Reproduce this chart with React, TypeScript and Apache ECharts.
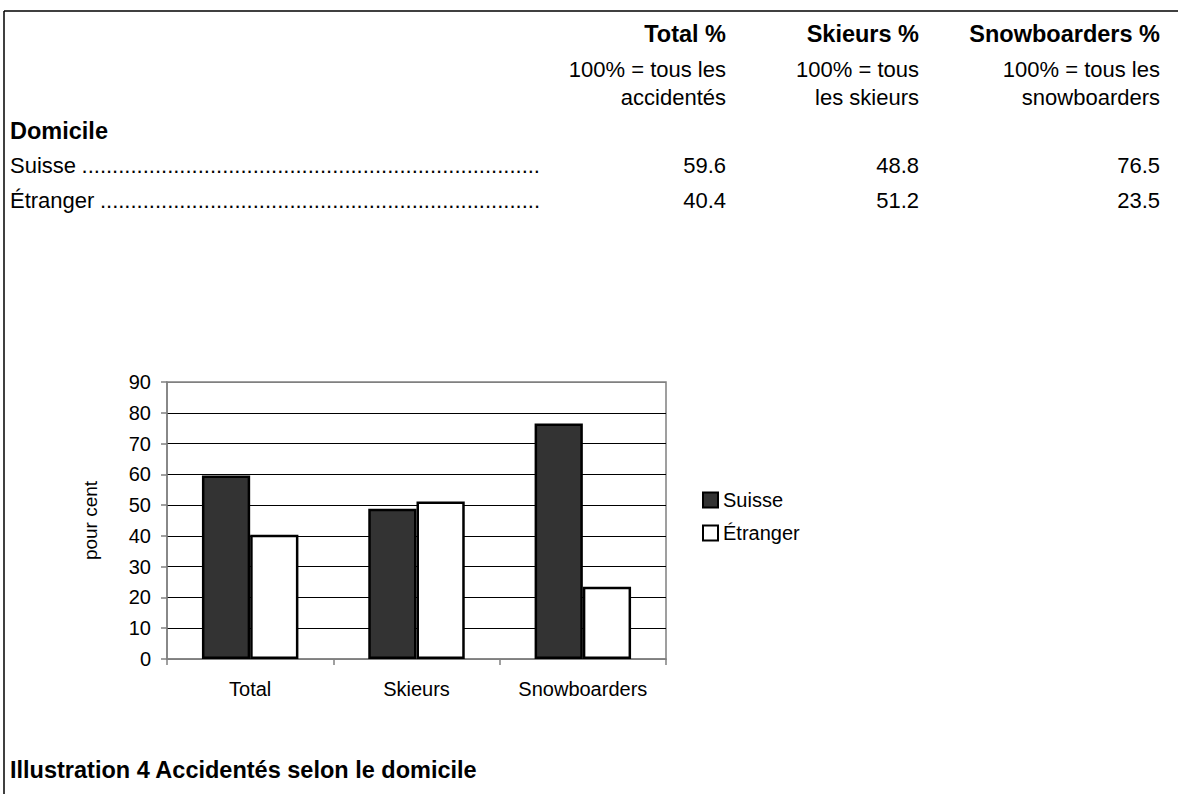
import React, { useEffect, useRef } from "react";
import * as echarts from "echarts";

const categories = ["Total", "Skieurs", "Snowboarders"];
const seriesNames = ["Suisse", "Étranger"];
const suisseValues = [59.6, 48.8, 76.5];
const etrangerValues = [40.4, 51.2, 23.5];
const yMin = 0;
const yMax = 90;
const yInterval = 10;
const yAxisName = "pour cent";

const tableHeaders = ["Total %", "Skieurs %", "Snowboarders %"];
const tableSubtitles = [
  ["100% = tous les", "accidentés"],
  ["100% = tous", "les skieurs"],
  ["100% = tous les", "snowboarders"],
];
const tableSection = "Domicile";
const tableRowLabels = ["Suisse", "Étranger"];
const tableRowValues = [suisseValues, etrangerValues];
const caption = "Illustration 4 Accidentés selon le domicile";

const FONT = "'Liberation Sans', Arial, Helvetica, sans-serif";

export default function App() {
  const ref = useRef<HTMLDivElement>(null);

  useEffect(() => {
    if (!ref.current) return;
    const chart = echarts.init(ref.current, undefined, { renderer: "svg" });

    const colRight = [726, 919, 1160];
    const tableFont = 22;
    const boldFont = 23.5;
    const textLeft = 10;
    const graphics: any[] = [];

    // page frame lines
    graphics.push({
      type: "line",
      shape: { x1: 4, y1: 11, x2: 1178, y2: 11 },
      style: { stroke: "#000", lineWidth: 1.5 },
    });
    graphics.push({
      type: "line",
      shape: { x1: 4, y1: 11, x2: 4, y2: 794 },
      style: { stroke: "#000", lineWidth: 1.5 },
    });

    tableHeaders.forEach((h, i) => {
      graphics.push({
        type: "text",
        x: colRight[i],
        y: 34,
        style: {
          text: h,
          font: `bold ${boldFont}px ${FONT}`,
          fill: "#000",
          align: "right",
          verticalAlign: "middle",
        },
      });
      tableSubtitles[i].forEach((line, j) => {
        graphics.push({
          type: "text",
          x: colRight[i],
          y: 69 + j * 28,
          style: {
            text: line,
            font: `${tableFont}px ${FONT}`,
            fill: "#000",
            align: "right",
            verticalAlign: "middle",
          },
        });
      });
    });

    graphics.push({
      type: "text",
      x: textLeft,
      y: 131,
      style: {
        text: tableSection,
        font: `bold ${boldFont}px ${FONT}`,
        fill: "#000",
        align: "left",
        verticalAlign: "middle",
      },
    });

    const dotCounts = [75, 72];
    tableRowLabels.forEach((lab, r) => {
      const y = 165 + r * 35;
      graphics.push({
        type: "text",
        x: textLeft,
        y,
        style: {
          text: lab,
          font: `${tableFont}px ${FONT}`,
          fill: "#000",
          align: "left",
          verticalAlign: "middle",
        },
      });
      graphics.push({
        type: "text",
        x: 540,
        y,
        style: {
          text: ".".repeat(dotCounts[r]),
          font: `${tableFont}px ${FONT}`,
          fill: "#000",
          align: "right",
          verticalAlign: "middle",
        },
      });
      tableRowValues[r].forEach((v, c) => {
        graphics.push({
          type: "text",
          x: colRight[c],
          y,
          style: {
            text: v.toFixed(1),
            font: `${tableFont}px ${FONT}`,
            fill: "#000",
            align: "right",
            verticalAlign: "middle",
          },
        });
      });
    });

    graphics.push({
      type: "text",
      x: textLeft,
      y: 770,
      style: {
        text: caption,
        font: `bold ${boldFont}px ${FONT}`,
        fill: "#000",
        align: "left",
        verticalAlign: "middle",
      },
    });

    const splitColors: string[] = [];
    for (let v = yMin; v <= yMax; v += yInterval) {
      splitColors.push(v === yMin || v === yMax ? "#808080" : "#000000");
    }

    chart.setOption({
      animation: false,
      backgroundColor: "#fff",
      textStyle: { fontFamily: FONT },
      grid: {
        left: 167,
        top: 382,
        width: 499,
        height: 277,
        show: true,
        borderColor: "#808080",
        borderWidth: 1.5,
        backgroundColor: "transparent",
      },
      legend: {
        orient: "vertical",
        left: 697,
        top: 485,
        itemWidth: 15,
        itemHeight: 15,
        itemGap: 13,
        icon: "rect",
        data: seriesNames,
        textStyle: { fontSize: 20, color: "#000", fontFamily: FONT, lineHeight: 20 },
      },
      xAxis: {
        type: "category",
        data: categories,
        axisLine: { lineStyle: { color: "#808080", width: 1.5 } },
        axisTick: { show: true, length: 6, lineStyle: { color: "#808080", width: 1.5 } },
        axisLabel: { color: "#000", fontSize: 20, margin: 20, fontFamily: FONT, interval: 0 },
      },
      yAxis: {
        type: "value",
        min: yMin,
        max: yMax,
        interval: yInterval,
        name: yAxisName,
        nameLocation: "middle",
        nameGap: 67,
        nameRotate: 90,
        nameTextStyle: { color: "#000", fontSize: 19, fontFamily: FONT },
        axisLine: { show: true, lineStyle: { color: "#808080", width: 1.5 } },
        axisTick: { show: true, length: 6, lineStyle: { color: "#808080", width: 1.5 } },
        axisLabel: { color: "#000", fontSize: 20, margin: 16, fontFamily: FONT },
        splitLine: { show: true, lineStyle: { color: splitColors, width: 1.2 } },
      },
      series: [
        {
          name: seriesNames[0],
          type: "bar",
          data: suisseValues,
          barGap: "0%",
          barCategoryGap: "42%",
          itemStyle: { color: "#333333", borderColor: "#000", borderWidth: 2.5 },
        },
        {
          name: seriesNames[1],
          type: "bar",
          data: etrangerValues,
          barGap: "0%",
          barCategoryGap: "42%",
          itemStyle: { color: "#ffffff", borderColor: "#000", borderWidth: 2.5 },
        },
      ],
      graphic: graphics,
    });

    return () => chart.dispose();
  }, []);

  return (
    <div
      ref={ref}
      style={{ position: "fixed", left: 0, top: 0, width: 1178, height: 794, background: "#fff" }}
    />
  );
}
